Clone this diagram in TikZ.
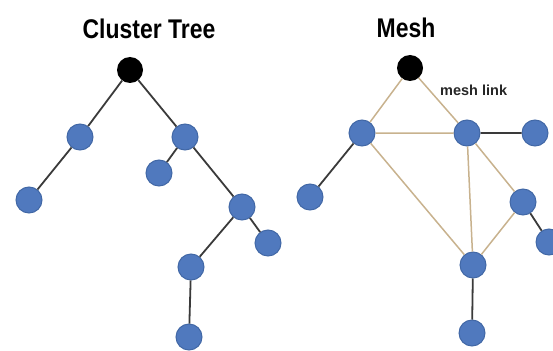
\documentclass[tikz,border=0pt]{standalone}
\usepackage{fontspec}
\setmainfont{Liberation Sans}
\newfontfamily\narrowbold[FakeStretch=0.85]{Liberation Sans}
\begin{document}
\begin{tikzpicture}[x=1pt,y=-1pt,
  dev/.style={circle,inner sep=0pt,minimum size=26pt,fill=nodeblue,draw=nodeedge,line width=1pt},
  coord/.style={circle,inner sep=0pt,minimum size=26pt,fill=black},
  tree/.style={draw=treeline,line width=1.8pt},
  mesh/.style={draw=meshline,line width=1.5pt},
  title/.style={font=\narrowbold\fontsize{27}{30}\selectfont\bfseries,inner sep=0pt},
  note/.style={font=\fontsize{14.5}{16}\selectfont\bfseries,inner sep=0pt,text=black!85}]
\definecolor{nodeblue}{HTML}{5079BE}
\definecolor{nodeedge}{HTML}{4268A6}
\definecolor{treeline}{HTML}{3A3A3A}
\definecolor{meshline}{HTML}{C8B28E}
\useasboundingbox (0,0) rectangle (553,350);

% ---- cluster tree ----
\node[title] (t1) at (149,29) {Cluster Tree};
\node[coord] (r) at (130,70) {};
\node[dev] (a) at (80,137) {};
\node[dev] (b) at (185,137) {};
\node[dev] (c) at (29,200) {};
\node[dev] (d) at (159,173) {};
\node[dev] (e) at (242,207) {};
\node[dev] (f) at (268,243) {};
\node[dev] (g) at (191,267) {};
\node[dev] (h) at (189,337) {};
\path[tree] (r) -- (a) (r) -- (b) (a) -- (c) (b) -- (d) (b) -- (e)
  (e) -- (f) (e) -- (g) (g) -- (h);

% ---- mesh ----
\node[title] (t2) at (406,28) {Mesh};
\node[coord] (mr) at (410,68) {};
\node[dev] (p1) at (362,133) {};
\node[dev] (p2) at (467,133) {};
\node[dev] (p3) at (535,133) {};
\node[dev] (p4) at (310,197) {};
\node[dev] (p5) at (523,202) {};
\node[dev] (p6) at (549,242) {};
\node[dev] (p7) at (473,265) {};
\node[dev] (p8) at (472,333) {};
\node[note,anchor=west] (ml) at (440,90) {mesh link};
\path[mesh] (mr) -- (p1) (mr) -- (p2) (p1) -- (p2) (p1) -- (p7)
  (p2) -- (p7) (p2) -- (p5) (p5) -- (p7);
\path[tree] (p2) -- (p3) (p1) -- (p4) (p5) -- (p6) (p7) -- (p8);
\end{tikzpicture}
\end{document}
